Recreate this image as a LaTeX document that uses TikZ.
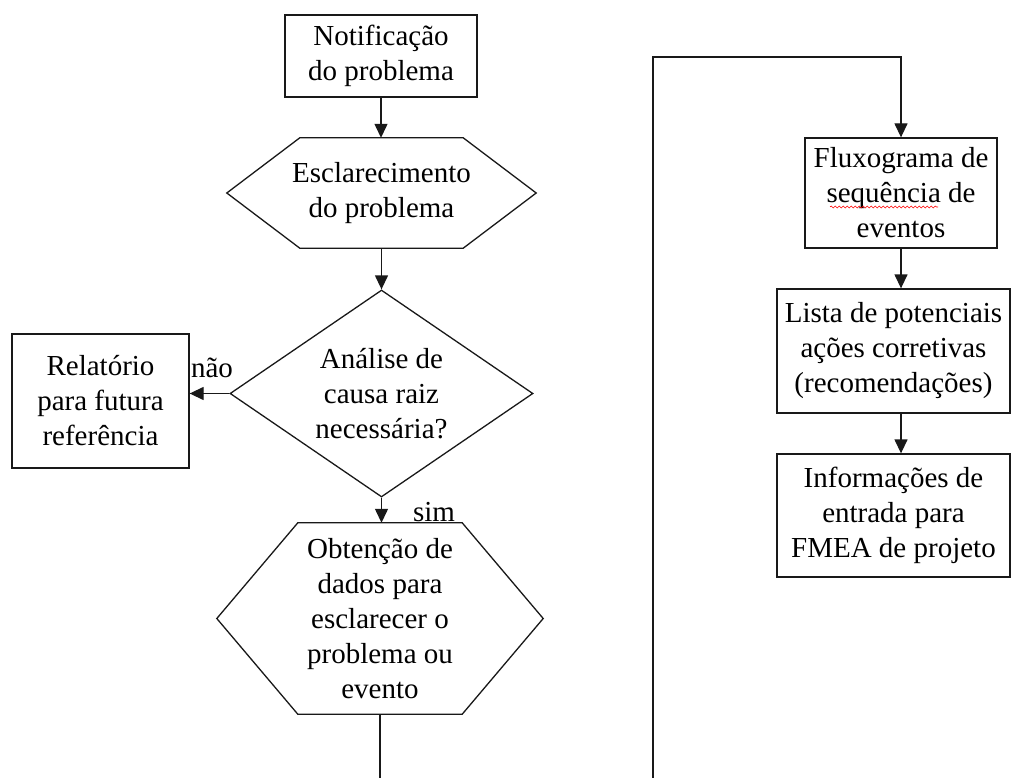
\documentclass[tikz,border=0pt]{standalone}
\usepackage{fontspec}
\setmainfont{Liberation Serif}
\usetikzlibrary{arrows.meta,shapes.geometric,decorations.pathmorphing}
\begin{document}
\begin{tikzpicture}[x=1pt,y=-1pt,
  every node/.style={font=\fontsize{29}{35}\selectfont, align=center, inner sep=0pt},
  ln/.style={line width=1.3pt, draw=black!90},
  boxnode/.style={ln, rectangle},
  hexnode/.style={rectangle, draw=none},
  arr/.style={ln, -{Triangle[length=14pt,width=13pt]}},
  lbl/.style={font=\fontsize{29}{35}\selectfont}]
\useasboundingbox (0,0) rectangle (1012,778);
\fill[white] (0,0) rectangle (1012,778);

% left column
\node[boxnode, minimum width=192pt, minimum height=82pt] (n1) at (381,56) {Notificação\\do problema};
\node[hexnode, minimum width=309pt, minimum height=110pt] (h1) at (381.5,193) {Esclarecimento\\do problema};
\draw[ln] (h1.west) -- ([xshift=73pt]h1.north west) -- ([xshift=-73pt]h1.north east) -- (h1.east)
  -- ([xshift=-73pt]h1.south east) -- ([xshift=73pt]h1.south west) -- cycle;
\node[ln, shape=diamond, aspect=1.46, minimum width=303pt, minimum height=207pt] (d) at (381.5,393.5) {Análise de\\causa raiz\\necessária?};
\node[boxnode, minimum width=177pt, minimum height=134pt] (rel) at (100.5,401) {Relatório\\para futura\\referência};
\node[hexnode, minimum width=326pt, minimum height=191pt] (h2) at (380,618.5) {Obtenção de\\dados para\\esclarecer o\\problema ou\\evento};
\draw[ln] (h2.west) -- ([xshift=81pt]h2.north west) -- ([xshift=-81pt]h2.north east) -- (h2.east)
  -- ([xshift=-81pt]h2.south east) -- ([xshift=81pt]h2.south west) -- cycle;
\node[lbl] (nao) at (212,368) {não};
\node[lbl] (sim) at (434,512) {sim};

% right column
\node[boxnode, minimum width=192pt, minimum height=110pt] (flux) at (901,193) {Fluxograma de\\sequência de\\eventos};
\draw[red, line width=0.6pt, decorate, decoration={snake, amplitude=1pt, segment length=4pt}]
  ([xshift=-71pt,yshift=-14pt]flux.center) -- ([xshift=37pt,yshift=-14pt]flux.center);
\node[boxnode, minimum width=233pt, minimum height=124pt] (lista) at (893.5,351) {Lista de potenciais\\ações corretivas\\(recomendações)};
\node[boxnode, minimum width=233pt, minimum height=123pt] (info) at (893.5,515.5) {Informações de\\entrada para\\FMEA de projeto};

\coordinate (b1) at (380,778);
\coordinate (b2) at (653,778);
\coordinate (t1) at (653,57);

% connectors
\draw[arr] (n1.south) -- (n1.south |- h1.north);
\draw[arr] (h1.south) -- (d.north);
\draw[arr] (d.west) -- (d.west -| rel.east);
\draw[arr] (d.south) -- (d.south |- h2.north);
\draw[ln] (h2.south) -- (b1);
\draw[arr] (b2) -- (t1) -- (t1 -| flux.north) -- (flux.north);
\draw[arr] (flux.south) -- (flux.south |- lista.north);
\draw[arr] (flux.south |- lista.south) -- (flux.south |- info.north);
\end{tikzpicture}
\end{document}
